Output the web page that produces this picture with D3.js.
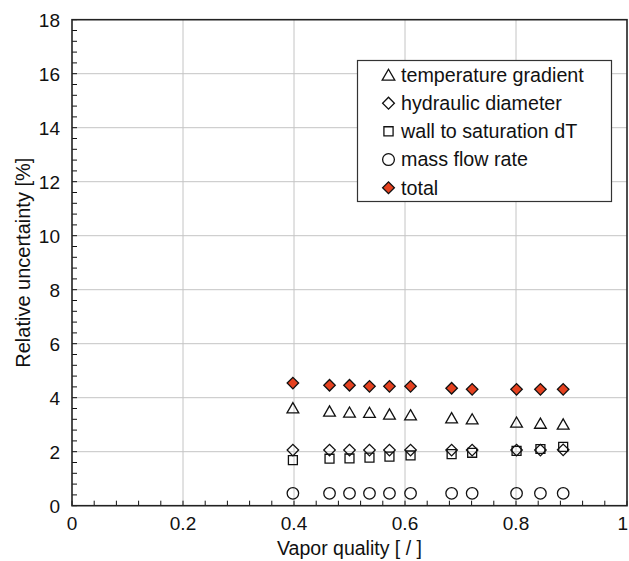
<!DOCTYPE html>
<html>
<head>
<meta charset="utf-8">
<script src="https://cdn.jsdelivr.net/npm/d3@7"></script>
<style>
  html, body { margin: 0; padding: 0; background: #fff; }
  svg { display: block; font-family: "Liberation Sans", Arial, sans-serif; }
</style>
</head>
<body>
<svg id="chart" width="629" height="561"></svg>
<script>
// Vapor quality of each measurement point
const quality = [0.398, 0.464, 0.500, 0.536, 0.572, 0.610, 0.684, 0.721, 0.801, 0.844, 0.885];

// Relative uncertainty contributions [%]
const tempGradient   = [3.62, 3.50, 3.46, 3.45, 3.39, 3.36, 3.25, 3.21, 3.09, 3.05, 3.02];
const hydraulicDiam  = [2.06, 2.06, 2.06, 2.06, 2.06, 2.06, 2.06, 2.06, 2.06, 2.06, 2.07];
const wallToSatDT    = [1.69, 1.74, 1.75, 1.78, 1.82, 1.86, 1.91, 1.96, 2.03, 2.10, 2.18];
const massFlowRate   = [0.46, 0.46, 0.46, 0.46, 0.46, 0.46, 0.46, 0.46, 0.46, 0.46, 0.46];
const totalUnc       = [4.54, 4.46, 4.46, 4.42, 4.42, 4.42, 4.35, 4.31, 4.31, 4.31, 4.31];

const seriesNames = ["temperature gradient", "hydraulic diameter", "wall to saturation dT", "mass flow rate", "total"];

const xTicks = [0, 0.2, 0.4, 0.6, 0.8, 1];
const yTicks = [0, 2, 4, 6, 8, 10, 12, 14, 16, 18];

const svg = d3.select("#chart");
const W = 629, H = 561;
const m = { left: 72, top: 19.7, right: 2, bottom: 55.3 };
const x = d3.scaleLinear().domain([0, 1]).range([m.left, W - m.right]);
const y = d3.scaleLinear().domain([0, 18]).range([H - m.bottom, m.top]);

// grid
const grid = svg.append("g").attr("stroke", "#c4c4c4").attr("stroke-width", 1);
grid.selectAll(".gx").data(xTicks.slice(1, -1)).join("line")
  .attr("x1", d => x(d)).attr("x2", d => x(d))
  .attr("y1", y(0)).attr("y2", y(18));
grid.selectAll(".gy").data(yTicks.slice(1, -1)).join("line")
  .attr("y1", d => y(d)).attr("y2", d => y(d))
  .attr("x1", x(0)).attr("x2", x(1));

// minor ticks, pointing inward
const xMinor = d3.range(0, 1.0001, 0.04);
const yMinor = d3.range(0, 18.0001, 0.4);
const tk = svg.append("g").attr("stroke", "#111").attr("stroke-width", 1);
tk.selectAll(".tx").data(xMinor).join("line")
  .attr("x1", d => x(d)).attr("x2", d => x(d))
  .attr("y1", y(0)).attr("y2", y(0) - 5);
tk.selectAll(".ty").data(yMinor).join("line")
  .attr("y1", d => y(d)).attr("y2", d => y(d))
  .attr("x1", x(0)).attr("x2", x(0) + 5);

// frame
svg.append("rect")
  .attr("x", x(0)).attr("y", y(18))
  .attr("width", x(1) - x(0)).attr("height", y(0) - y(18))
  .attr("fill", "none").attr("stroke", "#222").attr("stroke-width", 1.6);

// tick labels (the last x label is kept inside the page edge)
svg.append("g").selectAll("text").data(xTicks).join("text")
  .attr("x", d => d === 1 ? W - 1 : x(d)).attr("y", 530)
  .attr("text-anchor", d => d === 1 ? "end" : "middle")
  .attr("font-size", 19).attr("fill", "#111")
  .text(d => d3.format("~g")(d));
svg.append("g").selectAll("text").data(yTicks).join("text")
  .attr("x", 60).attr("y", d => y(d) + 6.8)
  .attr("text-anchor", "end").attr("font-size", 19).attr("fill", "#111")
  .text(d => d);

// axis titles
svg.append("text")
  .attr("x", (x(0) + x(1)) / 2).attr("y", 555)
  .attr("text-anchor", "middle").attr("font-size", 19.5).attr("fill", "#111")
  .text("Vapor quality [ / ]");
svg.append("text")
  .attr("transform", `translate(30,${(y(0) + y(18)) / 2}) rotate(-90)`)
  .attr("text-anchor", "middle").attr("font-size", 20).attr("fill", "#111")
  .text("Relative uncertainty [%]");

// marker shapes; diamonds are squares turned by 45 degrees
const sq = d3.symbol().type(d3.symbolSquare);
const shapes = {
  triangle: (k) => ({ d: d3.symbol().type(d3.symbolTriangle).size(60 * k)(), rot: 0, dy: 1.5 }),
  diamond:  (k) => ({ d: sq.size(66 * k)(), rot: 45, dy: 0 }),
  square:   (k) => ({ d: sq.size(80 * k)(), rot: 0, dy: 0 }),
  circle:   (k) => ({ d: d3.symbol().type(d3.symbolCircle).size(104 * k)(), rot: 0, dy: 0 }),
};
const styles = [
  { vals: tempGradient,  shape: "triangle", fill: "none" },
  { vals: hydraulicDiam, shape: "diamond",  fill: "none" },
  { vals: wallToSatDT,   shape: "square",   fill: "none" },
  { vals: massFlowRate,  shape: "circle",   fill: "none" },
  { vals: totalUnc,      shape: "diamond",  fill: "#e5411f" },
];

const plot = svg.append("g");
styles.forEach(s => {
  const sh = shapes[s.shape](1);
  plot.append("g").selectAll("path").data(quality.map((q, i) => [q, s.vals[i]])).join("path")
    .attr("d", sh.d)
    .attr("transform", d => `translate(${x(d[0])},${y(d[1]) + sh.dy}) rotate(${sh.rot})`)
    .attr("fill", s.fill).attr("stroke", "#111").attr("stroke-width", 1.3);
});

// legend
const lg = svg.append("g");
lg.append("rect").attr("x", 357.5).attr("y", 60.5).attr("width", 254).attr("height", 141)
  .attr("fill", "#fff").attr("stroke", "#333").attr("stroke-width", 1.2);
const rowY = d3.scaleLinear().domain([0, 4]).range([75, 187.7]);
seriesNames.forEach((name, i) => {
  const s = styles[i];
  const sh = shapes[s.shape](s.shape === "triangle" ? 1.15 : 1.05);
  lg.append("path").attr("d", sh.d)
    .attr("transform", `translate(388.5,${rowY(i) + sh.dy}) rotate(${sh.rot})`)
    .attr("fill", s.fill === "none" ? "#fff" : s.fill)
    .attr("stroke", "#111").attr("stroke-width", 1.3);
  lg.append("text").attr("x", 401).attr("y", rowY(i) + 6.8)
    .attr("font-size", 19.7).attr("fill", "#111").text(name);
});
</script>
</body>
</html>
